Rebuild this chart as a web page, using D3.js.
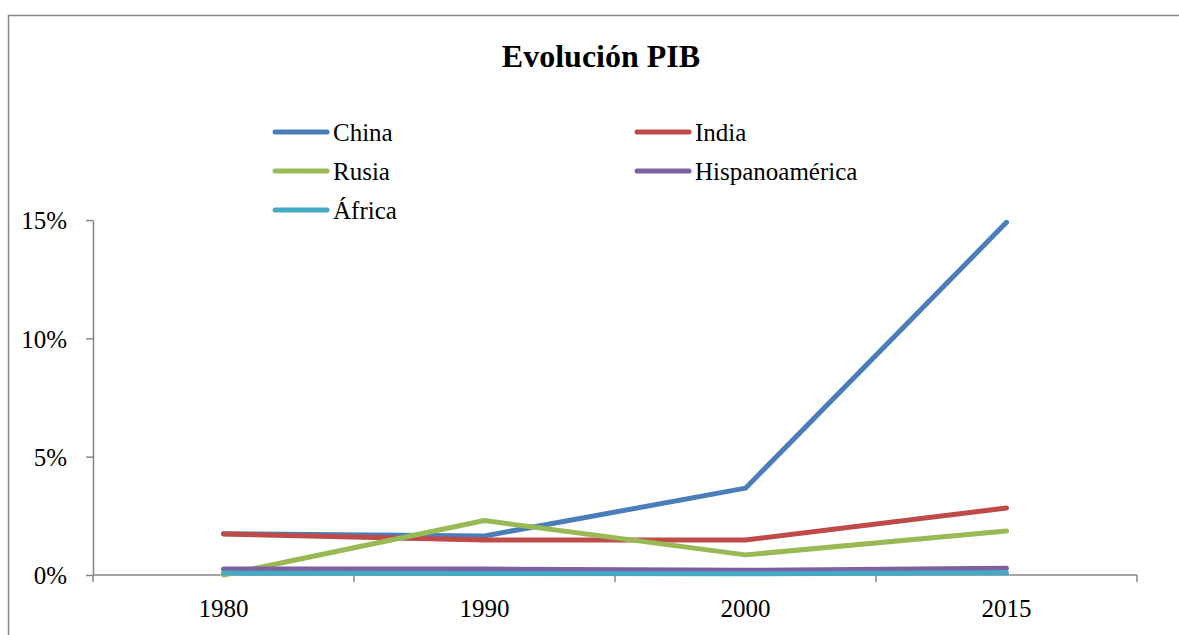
<!DOCTYPE html>
<html>
<head>
<meta charset="utf-8">
<script src="https://cdnjs.cloudflare.com/ajax/libs/d3/7.8.5/d3.min.js"></script>
<style>
    body { margin: 0; background: #fff; }
    svg text { font-family: "Liberation Serif", serif; fill: #000; }
</style>
</head>
<body>
<div id="chart"></div>
<script>
// data (percent)
const years = ["1980", "1990", "2000", "2015"];
const seriesNames = ["China", "India", "Rusia", "Hispanoamérica", "África"];
const china = [1.74, 1.65, 3.67, 14.9];
const india = [1.73, 1.48, 1.48, 2.83];
const rusia = [0.0, 2.3, 0.85, 1.86];
const hispano = [0.25, 0.25, 0.2, 0.28];
const africa = [0.08, 0.06, 0.05, 0.09];
const yTicks = [0, 5, 10, 15];
const colors = ["#4a7ebb", "#be4b48", "#98b954", "#7d60a0", "#46aac5"];

const series = [china, india, rusia, hispano, africa].map((vals, i) => ({
    name: seriesNames[i],
    values: vals,
    color: colors[i]
}));

const serif = "'Liberation Serif', serif";
const width = 1179, height = 635;
const margin = { left: 93, right: 42, top: 220, bottom: 60 };

const svg = d3.select("#chart").append("svg")
    .attr("width", width)
    .attr("height", height)
    .attr("font-family", serif);

// outer chart border (left + top visible)
svg.append("path")
    .attr("d", `M8.5,${height} L8.5,15.5 L${width},15.5`)
    .attr("fill", "none")
    .attr("stroke", "#868686")
    .attr("stroke-width", 1.5);

svg.append("text")
    .attr("x", 601)
    .attr("y", 67)
    .attr("text-anchor", "middle")
    .style("font-weight", "bold")
    .style("font-size", "32px")
    .text("Evolución PIB");

const x = d3.scaleBand()
    .domain(years)
    .range([margin.left, width - margin.right]);

const y = d3.scaleLinear()
    .domain([0, 15])
    .range([575, 220]);

// y axis
const yAxis = svg.append("g")
    .attr("transform", `translate(${margin.left},0)`)
    .call(d3.axisLeft(y).tickValues(yTicks).tickFormat(d => d + "%").tickSize(7).tickSizeOuter(0))
    .attr("font-family", serif)
    .attr("font-size", 25);
yAxis.select(".domain").attr("stroke", "#868686").attr("stroke-width", 1.5);
yAxis.selectAll(".tick line").attr("stroke", "#868686").attr("stroke-width", 1.5);
yAxis.selectAll(".tick text")
    .attr("x", -26)
    .attr("dy", "0.35em")
    .style("font-size", "25px");

// x axis with ticks between categories
const xg = svg.append("g").attr("transform", `translate(0,${y(0)})`);
xg.append("line")
    .attr("x1", margin.left).attr("x2", width - margin.right)
    .attr("stroke", "#868686").attr("stroke-width", 1.5);
const bounds = years.map(d => x(d)).concat([x(years[years.length - 1]) + x.bandwidth()]);
xg.selectAll(".xt").data(bounds).enter().append("line")
    .attr("x1", d => d).attr("x2", d => d)
    .attr("y1", 0).attr("y2", 7)
    .attr("stroke", "#868686").attr("stroke-width", 1.5);
xg.selectAll(".xl").data(years).enter().append("text")
    .attr("x", d => x(d) + x.bandwidth() / 2)
    .attr("y", 42)
    .attr("text-anchor", "middle")
    .style("font-size", "25px")
    .text(d => d);

// lines, later series drawn on top
const line = d3.line()
    .x((d, i) => x(years[i]) + x.bandwidth() / 2)
    .y(d => y(d));

svg.selectAll(".series").data(series).enter().append("path")
    .attr("d", d => line(d.values))
    .attr("fill", "none")
    .attr("stroke", d => d.color)
    .attr("stroke-width", 5)
    .attr("stroke-linecap", "round")
    .attr("stroke-linejoin", "round");

// legend, two columns
const legCols = [275, 637];
const legRows = [132, 171, 210];
const leg = svg.selectAll(".leg").data(series).enter().append("g")
    .attr("transform", (d, i) => `translate(${legCols[i % 2]},${legRows[Math.floor(i / 2)]})`);
leg.append("line")
    .attr("x1", 0).attr("x2", 52)
    .attr("stroke", d => d.color)
    .attr("stroke-width", 5)
    .attr("stroke-linecap", "round");
leg.append("text")
    .attr("x", 58)
    .attr("dy", "0.35em")
    .style("font-size", "25px")
    .text(d => d.name);
</script>
</body>
</html>
